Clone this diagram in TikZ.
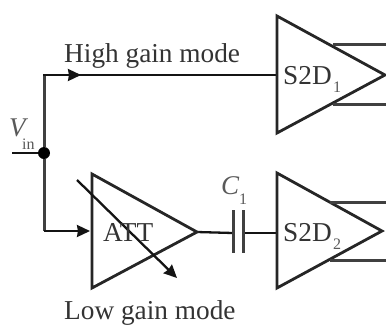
\documentclass[tikz,border=0pt]{standalone}
\usepackage{fontspec}
\setmainfont{Liberation Serif}
\usetikzlibrary{arrows.meta}
\tikzset{
  x=1pt,y=-1pt,
  wire/.style={line width=2.3pt,color=black!92},
  vwire/.style={line width=3pt,color=black!75},
  tri/.style={line width=2.8pt,color=black!85,line join=miter},
  flow/.style={-{Stealth[length=13pt,width=12pt,inset=1pt]}},
  lab/.style={inner sep=0pt,text=black!80,font=\fontsize{27.3}{27}\selectfont,anchor=base west},
  sub/.style={inner sep=0pt,text=black!65,font=\fontsize{16}{16}\selectfont,anchor=base west},
  ital/.style={inner sep=0pt,text=black!65,font=\fontsize{27}{27}\selectfont\itshape,anchor=base west},
  junction/.style={circle,fill=black,inner sep=0pt,minimum size=12pt}
}
\begin{document}
\begin{tikzpicture}
\useasboundingbox (0,0) rectangle (386,325);
\clip (0,0) rectangle (386,325);
% coordinates
\coordinate (in) at (12,153);
\node[junction] (j) at (44,153) {};
\coordinate (upc) at (44,75);
\coordinate (dnc) at (44,231);
\coordinate (aTop) at (92,174);
\coordinate (aBot) at (92,288);
\coordinate (aTip) at (197,232);
\coordinate (aIn) at (92,231);
\coordinate (aS) at (77,180);
\coordinate (aE) at (177,278);
\coordinate (s1Top) at (277,16);
\coordinate (s1Bot) at (277,133);
\coordinate (s1Tip) at (385,75);
\coordinate (s1In) at (277,75);
\coordinate (s2Top) at (277,173);
\coordinate (s2Bot) at (277,288);
\coordinate (s2Tip) at (382,231);
\coordinate (s2In) at (277,233);
\coordinate (c1a) at (233,233);
\coordinate (c1b) at (243,233);
\coordinate (c1at) at (233,210);
\coordinate (c1ab) at (233,253);
\coordinate (c1bt) at (243,210);
\coordinate (c1bb) at (243,253);
\coordinate (o1a) at (333,44);
\coordinate (o1ae) at (386,44);
\coordinate (o1b) at (333,104);
\coordinate (o1be) at (386,104);
\coordinate (o2a) at (330,202);
\coordinate (o2ae) at (386,202);
\coordinate (o2b) at (330,260);
\coordinate (o2be) at (386,260);
\coordinate (mid1) at (81,75);
% wires
\draw[wire] (in) -- (j);
\draw[vwire] (j) -- (upc);
\draw[vwire] (j) -- (dnc);
\draw[wire] (43,75) -- (s1In);
\draw[wire,flow] (43,75) -- (mid1);
\draw[wire,flow] (dnc) -- (90,231);
\draw[wire] (aTip) -- (c1a);
\draw[wire] (c1b) -- (s2In);
\draw[vwire] (c1at) -- (c1ab);
\draw[vwire] (c1bt) -- (c1bb);
% triangles
\draw[tri] (aTop) -- (aTip) -- (aBot) -- cycle;
\draw[tri] (s1Top) -- (s1Tip) -- (s1Bot) -- cycle;
\draw[tri] (s2Top) -- (s2Tip) -- (s2Bot) -- cycle;
% outputs
\draw[vwire] (o1a) -- (o1ae);
\draw[vwire] (o1b) -- (o1be);
\draw[vwire] (o2a) -- (o2ae);
\draw[vwire] (o2b) -- (o2be);
% tunable arrow
\draw[wire,flow] (aS) -- (aE);
% labels
\node[lab] (hg) at (64,62) {High gain mode};
\node[lab] (lg) at (64,319) {Low gain mode};
\node[lab] (att) at (103,241) {ATT};
\node[lab] (s1) at (283,84) {S2D};
\node[sub] (s1s) at (333,92) {1};
\node[lab] (s2) at (283,241) {S2D};
\node[sub] (s2s) at (333,249) {2};
\node[ital] (vin) at (9,136) {V};
\node[sub] (vins) at (22,149) {in};
\node[ital] (c1l) at (221,194) {C};
\node[sub] (c1s) at (239,204) {1};
\end{tikzpicture}
\end{document}
